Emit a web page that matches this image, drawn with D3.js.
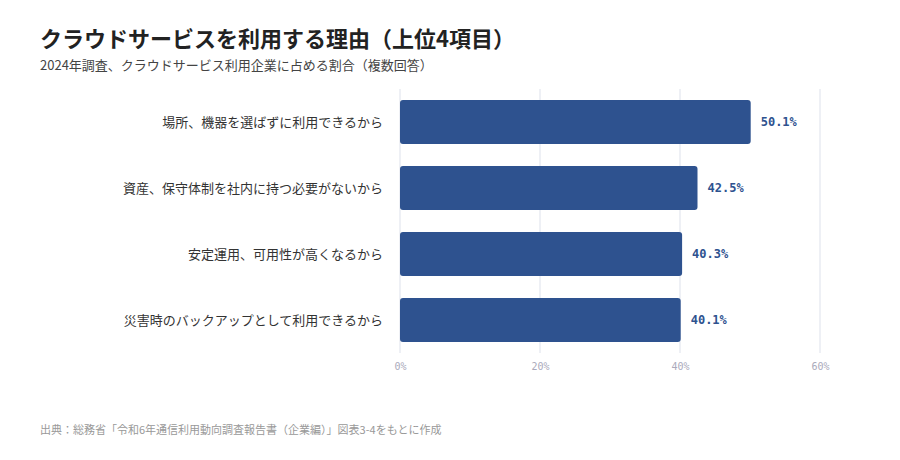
<!DOCTYPE html>
<html><head><meta charset="utf-8">
<script src="https://cdn.jsdelivr.net/npm/d3@7"></script>
<style>body{margin:0;background:#fff;font-family:"Noto Sans CJK JP",sans-serif}</style>
</head><body><svg id="c" width="900" height="460"></svg>
<script>
const categories=["場所、機器を選ばずに利用できるから","資産、保守体制を社内に持つ必要がないから","安定運用、可用性が高くなるから","災害時のバックアップとして利用できるから"];
const values=[50.1,42.5,40.3,40.1];
const ticks=[0,20,40,60];
const svg=d3.select("#c");
const x=d3.scaleLinear().domain([0,60]).range([400,820]);
const y=d3.scaleBand().domain(categories).range([89,353]).paddingInner(0.333).paddingOuter(0.166);
svg.append("text").attr("x",40).attr("y",47).attr("font-size",22).attr("font-weight",700).attr("fill","#222").text("クラウドサービスを利用する理由（上位4項目）");
svg.append("text").attr("x",40).attr("y",70).attr("font-size",13).attr("fill","#444").text("2024年調査、クラウドサービス利用企業に占める割合（複数回答）");
const ax=svg.append("g").attr("transform","translate(0,353)").call(d3.axisBottom(x).tickValues(ticks).tickFormat(d=>d+"%").tickSize(0).tickPadding(10));
ax.select(".domain").remove();
ax.selectAll("text").attr("font-family","DejaVu Sans Mono").attr("font-size",10).attr("fill","#aab");
svg.selectAll(".g").data(ticks).join("line").attr("x1",d=>x(d)).attr("x2",d=>x(d)).attr("y1",89).attr("y2",353).attr("stroke","#eef0f5").attr("stroke-width",2);
svg.selectAll(".b").data(values).join("rect").attr("x",x(0)).attr("y",(d,i)=>y(categories[i])).attr("width",d=>x(d)-x(0)).attr("height",y.bandwidth()).attr("rx",3).attr("fill","#2e528f");
svg.selectAll(".v").data(values).join("text").attr("x",d=>x(d)+10).attr("y",(d,i)=>y(categories[i])+y.bandwidth()/2).attr("dy","0.35em").attr("font-family","DejaVu Sans Mono").attr("font-weight",700).attr("font-size",12).attr("fill","#2e528f").text(d=>d.toFixed(1)+"%");
svg.selectAll(".c").data(categories).join("text").attr("x",383).attr("y",d=>y(d)+y.bandwidth()/2).attr("dy","0.35em").attr("text-anchor","end").attr("font-size",13).attr("fill","#333").text(d=>d);
svg.append("text").attr("x",40).attr("y",434).attr("font-size",11).attr("fill","#999").text("出典：総務省「令和6年通信利用動向調査報告書（企業編）」図表3-4をもとに作成");
</script></body></html>
